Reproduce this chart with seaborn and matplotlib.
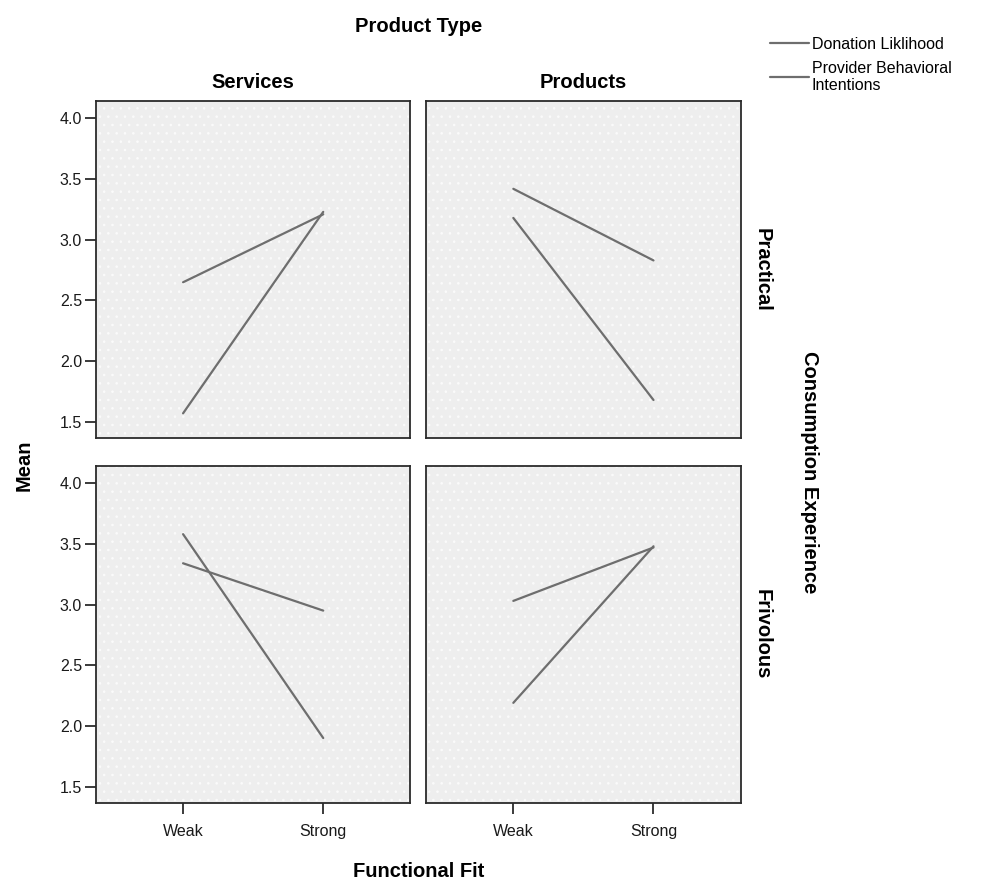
import numpy as np
import pandas as pd
import matplotlib
matplotlib.use("Agg")
import matplotlib.pyplot as plt
from matplotlib.lines import Line2D
import seaborn as sns

# Cell means
fits = ["Weak", "Strong"]
product_types = ["Services", "Products"]
experiences = ["Practical", "Frivolous"]
measures = ["Donation Liklihood", "Provider Behavioral\nIntentions"]

# (experience, product type) -> [weak, strong]
donation = {
    ("Practical", "Services"): [1.57, 3.23],
    ("Practical", "Products"): [3.18, 1.68],
    ("Frivolous", "Services"): [3.58, 1.90],
    ("Frivolous", "Products"): [2.19, 3.48],
}
provider = {
    ("Practical", "Services"): [2.65, 3.21],
    ("Practical", "Products"): [3.42, 2.83],
    ("Frivolous", "Services"): [3.34, 2.95],
    ("Frivolous", "Products"): [3.03, 3.47],
}

rows = []
for measure, table in zip(measures, [donation, provider]):
    for (exp, ptype), vals in table.items():
        for i, v in enumerate(vals):
            rows.append({"Experience": exp, "Product": ptype, "FitIdx": i,
                         "Fit": fits[i], "Measure": measure, "Mean": v})
df = pd.DataFrame(rows)

sns.set_style("white")
plt.rcParams["font.family"] = ["Liberation Sans", "DejaVu Sans"]
plt.rcParams["hatch.linewidth"] = 0.6
plt.rcParams["text.color"] = "black"

line_color = "#6e6e6e"
palette = {m: line_color for m in measures}

fig, axes = plt.subplots(2, 2, figsize=(9.9, 8.82), dpi=100, sharex=True, sharey=True)
fig.subplots_adjust(left=0.097, right=0.748, top=0.885, bottom=0.0896,
                    wspace=0.051, hspace=0.083)

for r, exp in enumerate(experiences):
    for c, ptype in enumerate(product_types):
        ax = axes[r, c]
        sub = df[(df["Experience"] == exp) & (df["Product"] == ptype)]
        sns.lineplot(data=sub, x="FitIdx", y="Mean", hue="Measure", palette=palette,
                     ax=ax, legend=False, linewidth=1.6, estimator=None)
        ax.set_facecolor("#eeeeee")
        ax.patch.set_edgecolor("#fbfbfb")
        ax.patch.set_hatch("..")
        for s in ax.spines.values():
            s.set_visible(True)
            s.set_color("#2b2b2b")
            s.set_linewidth(1.3)
        ax.set_xlim(-0.621, 1.621)
        ax.set_ylim(1.365, 4.14)
        ax.set_xticks([0, 1])
        ax.set_xticklabels(fits)
        ax.set_yticks([1.5, 2.0, 2.5, 3.0, 3.5, 4.0])
        ax.set_yticklabels(["1.5", "2.0", "2.5", "3.0", "3.5", "4.0"])
        ax.set_xlabel("")
        ax.set_ylabel("")
        ax.tick_params(axis="both", direction="out", length=8, width=1.3,
                       color="#2b2b2b", labelsize=11.5, labelcolor="#1a1a1a")
        ax.tick_params(axis="x", pad=7)
        ax.tick_params(axis="y", pad=2)
        if c == 1:
            ax.tick_params(axis="y", left=False, labelleft=False)
        else:
            ax.tick_params(axis="y", left=True)
        if r == 0:
            ax.tick_params(axis="x", bottom=False, labelbottom=False)
        else:
            ax.tick_params(axis="x", bottom=True)
        if r == 0:
            ax.set_title(ptype, fontsize=14.5, fontweight="bold", pad=10, color="black")
        if c == 1:
            ax.text(1.04, 0.5, exp, transform=ax.transAxes, rotation=270,
                    ha="left", va="center", fontsize=14.5, fontweight="bold")

fig.text(0.423, 0.970, "Product Type", ha="center", va="center",
         fontsize=14.5, fontweight="bold")
fig.text(0.423, 0.012, "Functional Fit", ha="center", va="center",
         fontsize=14.5, fontweight="bold")
fig.text(0.024, 0.473, "Mean", ha="center", va="center", rotation=90,
         fontsize=14.5, fontweight="bold")
fig.text(0.818, 0.465, "Consumption Experience", ha="center", va="center",
         rotation=270, fontsize=14.5, fontweight="bold")

handles = [Line2D([0], [0], color=line_color, linewidth=1.6) for _ in measures]
fig.legend(handles, measures, loc="upper left", bbox_to_anchor=(0.778, 0.958),
           frameon=False, fontsize=11.5, handlelength=2.4, handletextpad=0.2,
           labelspacing=0.55, borderaxespad=0, borderpad=0)

fig.savefig("out.png", dpi=100)
